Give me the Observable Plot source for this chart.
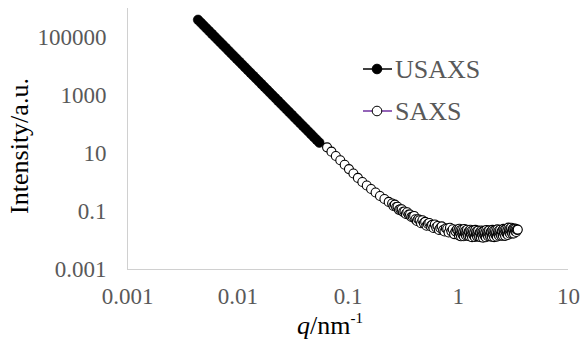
<!DOCTYPE html>
<html><head><meta charset="utf-8">
<script src="https://cdn.jsdelivr.net/npm/d3@7"></script>
<script src="https://cdn.jsdelivr.net/npm/@observablehq/plot@0.6"></script>
<style>
body{margin:0;background:#fff;}
#wrap{position:relative;width:581px;height:340px;}
#wrap svg text{font-family:"Liberation Serif","Times New Roman",serif;}
</style></head><body><div id="wrap"></div>
<script>
// ---- data ----
const usaxsQ = [0.004365,0.004624,0.004898,0.005188,0.005495,0.005821,0.006166,0.006531,0.006918,0.007328,
  0.007762,0.008222,0.008710,0.009226,0.009772,0.01035,0.01096,0.01161,0.01230,0.01303,
  0.01380,0.01462,0.01549,0.01641,0.01738,0.01841,0.01950,0.02065,0.02188,0.02317,
  0.02455,0.02600,0.02754,0.02917,0.03090,0.03273,0.03467,0.03673,0.03890,0.04121,
  0.04365,0.04624,0.04898,0.05188,0.05495];
const usaxsI = [407000,326600,261500,209400,167900,134500,107800,86300,69180,55460,
  44410,35560,28510,22860,18300,14660,11750,9419,7544,6039,
  4842,3882,3109,2489,1995,1600,1281,1026,822,659,
  528,423,339,272,218,174,140,112,89.7,71.8,
  57.5,46.1,36.9,29.6,23.7];

const saxsQ = [
  0.0646,0.0708,0.0776,0.0851,0.0933,0.102,0.112,0.123,0.135,0.148,0.162,0.178,0.195,0.214,0.234,
  0.2512,0.2585,0.2661,0.2738,0.2818,0.2901,0.2985,0.3072,0.3162,0.3255,0.3350,0.3447,0.3548,0.3652,0.3758,0.3868,
  0.3981,0.4097,0.4217,0.4340,0.4467,0.4597,0.4732,0.4870,0.5012,0.5158,0.5309,0.5464,0.5623,0.5788,0.5957,0.6131,
  0.6310,0.6494,0.6683,0.6879,0.7079,0.7286,0.7499,0.7718,0.7943,0.8175,0.8414,0.8660,0.8913,0.9173,0.9441,0.9716,
  1.000,1.012,1.023,1.035,1.047,1.059,1.072,1.084,1.096,1.109,1.122,1.135,1.148,1.161,1.175,1.189,1.202,1.216,1.230,1.245,
  1.259,1.274,1.288,1.303,1.318,1.334,1.349,1.365,1.380,1.396,1.413,1.429,1.445,1.462,1.479,1.496,1.514,1.531,1.549,1.567,
  1.585,1.603,1.622,1.641,1.660,1.679,1.698,1.718,1.738,1.758,1.778,1.799,1.820,1.841,1.862,1.884,1.905,1.928,1.950,1.972,
  1.995,2.018,2.042,2.065,2.089,2.113,2.138,2.163,2.188,2.213,2.239,2.265,2.291,2.317,2.344,2.371,2.399,2.427,2.455,2.483,
  2.512,2.541,2.570,2.600,2.630,2.661,2.692,2.723,2.754,2.786,2.818,2.851,2.884,2.917,2.951,2.985,3.020,3.055,3.090,3.126,
  3.162,3.199,3.236,3.273,3.311,3.350,3.388,3.428,3.467];
const saxsI = [
  16.3,11.6,8.22,5.85,4.11,2.90,2.04,1.44,1.04,0.787,0.596,0.451,0.341,0.269,0.214,
  0.1884,0.1543,0.1730,0.1426,0.1451,0.1142,0.1189,0.1195,0.0973,0.0999,0.0824,0.0944,0.0783,0.0788,0.0649,0.0664,
  0.0703,0.0538,0.0473,0.0543,0.0502,0.0392,0.0499,0.0398,0.0439,0.0324,0.0373,0.0402,0.0312,0.0345,0.0271,0.0358,
  0.0282,0.0317,0.0232,0.0272,0.0308,0.0228,0.0205,0.0264,0.0254,0.0189,0.0274,0.0207,0.0245,0.0166,0.0207,0.0238,
  0.02195,0.01505,0.02533,0.01777,0.02269,0.01395,0.01919,0.02354,0.01585,0.02035,0.01405,0.02489,0.01756,0.02154,0.01485,0.01907,0.02338,0.01612,0.01432,0.02063,
  0.02010,0.01385,0.02345,0.01655,0.02125,0.01306,0.01796,0.02203,0.01485,0.01906,0.01315,0.02330,0.01645,0.02016,0.01391,0.01785,0.02190,0.01509,0.01341,0.01932,
  0.01882,0.01301,0.02216,0.01572,0.02030,0.01254,0.01735,0.02140,0.01449,0.01871,0.01299,0.02314,0.01642,0.02023,0.01403,0.01811,0.02233,0.01549,0.01382,0.02003,
  0.01962,0.01360,0.02316,0.01643,0.02122,0.01311,0.01814,0.02237,0.01516,0.01956,0.01358,0.02419,0.01716,0.02116,0.01467,0.01894,0.02335,0.01623,0.01459,0.02128,
  0.02098,0.01464,0.02509,0.01791,0.02328,0.01448,0.02015,0.02502,0.01705,0.02214,0.01546,0.02772,0.01980,0.02457,0.01715,0.02228,0.02764,0.01928,0.01733,0.02527,
  0.02490,0.01737,0.02598,0.02125,0.02528,0.01970,0.02392,0.02300,0.0238];

const seriesNames = ["USAXS", "SAXS"];
const xTicks = [0.001, 0.01, 0.1, 1, 10];
const xTickLabels = ["0.001", "0.01", "0.1", "1", "10"];
const yTicks = [0.001, 0.1, 10, 1000, 100000];
const yTickLabels = ["0.001", "0.1", "10", "1000", "100000"];
const xDomain = [0.001, 10];
const yDomain = [0.001, 1000000];
const yTitle = "Intensity/a.u.";

// ---- build ----
const usaxs = usaxsQ.map((q, i) => ({q, I: usaxsI[i]}));
const saxs = saxsQ.map((q, i) => ({q, I: saxsI[i]}));
const FONT = "\"Liberation Serif\", \"Times New Roman\", serif";

const chart = Plot.plot({
  width: 581, height: 340,
  marginLeft: 127, marginRight: 13, marginTop: 8, marginBottom: 71,
  style: {fontFamily: FONT, background: "#fff", overflow: "visible"},
  x: {type: "log", domain: xDomain},
  y: {type: "log", domain: yDomain},
  marks: [
    Plot.ruleX([xDomain[0]], {stroke: "#d0d0d0", strokeWidth: 1}),
    Plot.ruleY([yDomain[0]], {stroke: "#d0d0d0", strokeWidth: 1}),
    Plot.axisX({ticks: xTicks, tickFormat: d => xTickLabels[xTicks.indexOf(d)], tickSize: 0, tickPadding: 18,
      fontSize: 23, color: "#595959", label: null}),
    Plot.axisY({ticks: yTicks, tickFormat: d => yTickLabels[yTicks.indexOf(d)], tickSize: 0, tickPadding: 21,
      fontSize: 23, color: "#595959", label: null}),
    Plot.dot(usaxs, {x: "q", y: "I", r: 4.8, fill: "#000", stroke: "#000", strokeWidth: 0.6}),
    Plot.dot(saxs, {x: "q", y: "I", r: 4.5, fill: "#fff", stroke: "#000", strokeWidth: 1.1})
  ]
});
document.getElementById("wrap").appendChild(chart);

// ---- titles and legend ----
const svg = d3.select(chart);
svg.append("text")
  .attr("transform", "translate(28,146) rotate(-90)")
  .attr("text-anchor", "middle")
  .style("font-family", FONT).attr("font-size", 26).attr("fill", "#000")
  .text(yTitle);

const xt = svg.append("text")
  .attr("x", 297).attr("y", 334).attr("text-anchor", "start")
  .style("font-family", FONT).attr("font-size", 26).attr("fill", "#000");
xt.append("tspan").attr("font-style", "italic").text("q");
xt.append("tspan").text("/nm");
xt.append("tspan").attr("font-size", 15).attr("dy", -11).text("-1");

const legend = svg.append("g");
const rows = [
  {name: seriesNames[0], y: 69, line: "#000", fill: "#000"},
  {name: seriesNames[1], y: 111, line: "#7030a0", fill: "#fff"}
];
rows.forEach(r => {
  legend.append("line").attr("x1", 363).attr("x2", 392).attr("y1", r.y).attr("y2", r.y)
    .attr("stroke", r.line).attr("stroke-width", 1.5);
  legend.append("circle").attr("cx", 377).attr("cy", r.y).attr("r", 4.8)
    .attr("fill", r.fill).attr("stroke", "#000").attr("stroke-width", 1);
  legend.append("text").attr("x", 395).attr("y", r.y + 8.5).attr("text-anchor", "start")
    .style("font-family", FONT).attr("font-size", 26).attr("fill", "#595959")
    .text(r.name);
});
</script></body></html>
